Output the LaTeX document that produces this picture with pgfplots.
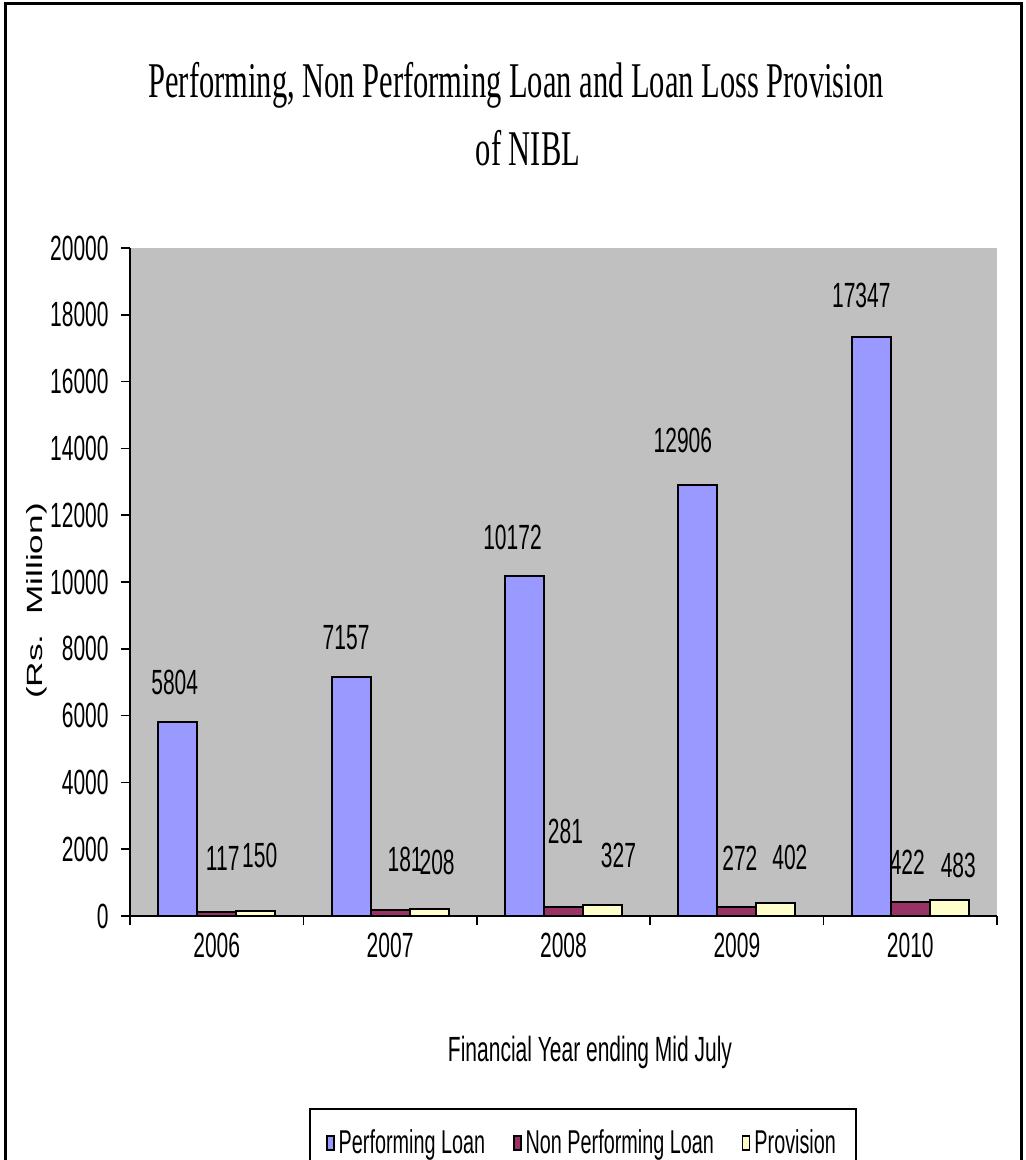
\documentclass[border=0pt]{standalone}
\usepackage{fontspec}
\setmainfont{Liberation Sans}
\newfontfamily\narrow{Liberation Sans}[FakeStretch=0.6]
\newfontfamily\titlefont{Liberation Serif}[FakeStretch=0.61]
\newfontfamily\widefont{Liberation Sans}[FakeStretch=1.6]
\usepackage{pgfplots}
\usepackage{pgfplotstable}
\pgfplotsset{compat=1.18}

\definecolor{plotgray}{HTML}{C0C0C0}
\definecolor{perfblue}{HTML}{9999FF}
\definecolor{nplred}{HTML}{993366}
\definecolor{provyel}{HTML}{FFFFCC}

% dx, dy: label offsets from bar top, in pixels of the reference
\pgfplotstableread{
x perf  pdx pdy npl ndx ndy prov vdx vdy
0 5804  -3  40  117 6   54  150  4   56
1 7157  -5  39  181 15  51  208  8   47
2 10172 -12 39  281 2   75  327  16  50
3 12906 -15 44  272 3   49  402  14  45
4 17347 -10 41  422 -3  40  483  9   34
}\loans

\begin{document}
\begin{tikzpicture}[x=0.5pt,y=0.5pt]
\path[use as bounding box] (0,0) rectangle (1025,1160);
\clip (0,0) rectangle (1025,1160);

% outer frame
\draw[line width=1.5pt] (5,-50) -- (5,1156) -- (1021,1156) -- (1021,-50);

% title
\node[anchor=base, font=\titlefont\fontsize{25}{30}\selectfont] at (516,1062)
  {Performing, Non Performing Loan and Loan Loss Provision};
\node[anchor=base, font=\titlefont\fontsize{25}{30}\selectfont] at (528,994) {of NIBL};

% axis titles
\node[rotate=90, font=\widefont\fontsize{11}{13}\selectfont] at (37,559) {(Rs.\ \ Million)};
\node[font=\narrow\fontsize{17.5}{20}\selectfont] at (590,108) {Financial Year ending Mid July};

\coordinate (axsw) at (130,244);

\begin{axis}[
    at={(axsw)}, anchor=south west,
    scale only axis,
    width=433.5pt, height=334pt,
    xmin=-0.5, xmax=4.5,
    ymin=0, ymax=20000,
    ytick distance=2000,
    scaled y ticks=false,
    xtick={-0.5,0.5,...,4.5},
    xticklabels={2006,2007,2008,2009,2010},
    x tick label as interval,
    axis lines*=left,
    axis line style={line width=0.8pt},
    tick align=outside,
    major tick length=4.5pt,
    tick style={black, line width=0.8pt},
    axis background/.style={fill=plotgray},
    /pgf/number format/assume math mode=true,
    /pgf/number format/set thousands separator={},
    ticklabel style={font=\narrow\fontsize{17.5}{20}\selectfont},
    yticklabel style={anchor=east, inner sep=0pt, xshift=-6pt},
    xticklabel style={anchor=north, inner sep=0pt, yshift=-4pt},
    ybar=0pt,
    bar width=19.5pt,
    every axis plot/.append style={draw=black, line width=1pt},
    nodes near coords,
    every node near coord/.append style={
        font=\narrow\fontsize{17.5}{20}\selectfont, black,
        anchor=center, xshift={0.5pt*\dx}, yshift={0.5pt*\dy}},
    legend style={
        at={(0.5225,-0.287)}, anchor=north,
        draw=black, line width=1pt,
        font=\narrow\fontsize{16.5}{19}\selectfont,
        inner xsep=8pt, inner ysep=8.5pt,
        legend columns=3,
        /tikz/every even column/.append style={column sep=12pt}},
    legend image code/.code={
        \draw[#1, line width=0.8pt] (0pt,-3.5pt) rectangle (3.5pt,3.5pt);},
]
\addplot[fill=perfblue,
    visualization depends on={\thisrow{pdx} \as \dx},
    visualization depends on={\thisrow{pdy} \as \dy}]
    table[x=x, y=perf] {\loans};
\addlegendentry{Performing Loan}
\addplot[fill=nplred,
    visualization depends on={\thisrow{ndx} \as \dx},
    visualization depends on={\thisrow{ndy} \as \dy}]
    table[x=x, y=npl] {\loans};
\addlegendentry{Non Performing Loan}
\addplot[fill=provyel,
    visualization depends on={\thisrow{vdx} \as \dx},
    visualization depends on={\thisrow{vdy} \as \dy}]
    table[x=x, y=prov] {\loans};
\addlegendentry{Provision}
\end{axis}
\end{tikzpicture}
\end{document}
